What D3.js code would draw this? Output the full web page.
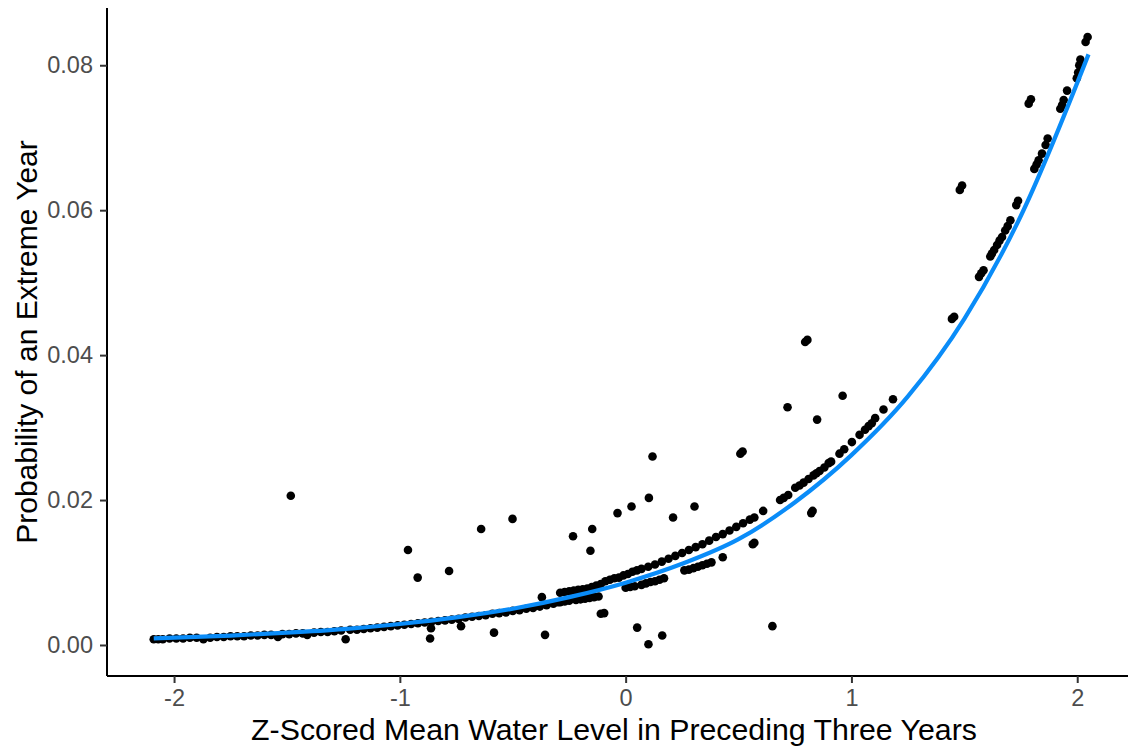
<!DOCTYPE html>
<html>
<head>
<meta charset="utf-8">
<script src="https://cdn.jsdelivr.net/npm/d3@7"></script>
<style>
  body { margin: 0; background: #fff; }
  svg { display: block; font-family: "Liberation Sans", Arial, sans-serif; }
</style>
</head>
<body>
<svg id="chart" width="1128" height="746"></svg>
<script>
// observed points: [z-scored water level, probability]
const bandPoints = [
  [-2.09,0.0008],[-2.07,0.0008],[-2.05,0.0008],[-2.02,0.0009],[-1.99,0.0009],[-1.96,0.0009],
  [-1.93,0.0010],[-1.90,0.0010],[-1.87,0.0008],[-1.84,0.0010],[-1.81,0.0011],[-1.78,0.0011],
  [-1.75,0.0012],[-1.72,0.0012],[-1.69,0.0012],[-1.66,0.0013],[-1.63,0.0013],[-1.60,0.0014],
  [-1.57,0.0014],[-1.54,0.0011],[-1.52,0.0015],[-1.49,0.0015],[-1.46,0.0016],[-1.43,0.0016],
  [-1.41,0.0014],[-1.38,0.0017],[-1.35,0.0018],[-1.32,0.0018],[-1.29,0.0019],[-1.26,0.0020],
  [-1.24,0.0008],[-1.22,0.0021],[-1.19,0.0021],[-1.16,0.0022],[-1.13,0.0023],[-1.10,0.0024],
  [-1.07,0.0025],[-1.04,0.0026],[-1.01,0.0027],[-0.98,0.0028],[-0.95,0.0029],[-0.92,0.0030],
  [-0.89,0.0031],[-0.86,0.0032],[-0.83,0.0033],[-0.80,0.0034],[-0.77,0.0035],[-0.74,0.0036],
  [-0.71,0.0038],[-0.68,0.0039],[-0.65,0.0040],[-0.62,0.0041],[-0.59,0.0043],[-0.56,0.0044],
  [-0.53,0.0045],[-0.50,0.0047],[-0.47,0.0048],[-0.44,0.0050],[-0.41,0.0051],[-0.38,0.0053],
  [-0.35,0.0055],[-0.32,0.0057],[-0.30,0.0059],
  // upper run
  [-0.29,0.0072],[-0.27,0.0073],[-0.25,0.0074],[-0.23,0.0075],[-0.21,0.0076],[-0.19,0.0077],
  [-0.17,0.0078],[-0.15,0.0080],[-0.13,0.0082],[-0.11,0.0084],[-0.09,0.0088],[-0.07,0.0090],
  [-0.05,0.0092],[-0.03,0.0093],[-0.01,0.0096],[0.01,0.0098],[0.03,0.0101],[0.05,0.0103],
  [0.07,0.0105],[0.10,0.0108],[0.13,0.0111],[0.16,0.0115],[0.19,0.0119],[0.22,0.0123],
  [0.25,0.0127],[0.28,0.0131],[0.31,0.0135],[0.34,0.0139],[0.37,0.0144],[0.40,0.0149],
  [0.43,0.0153],[0.46,0.0158],[0.49,0.0163],[0.52,0.0168],[0.55,0.0173],[0.57,0.0176],
  // lower runs
  [-0.29,0.0059],[-0.27,0.0060],[-0.25,0.0061],[-0.22,0.0062],[-0.20,0.0063],[-0.18,0.0064],
  [-0.16,0.0065],[-0.14,0.0066],[-0.12,0.0067],
  [0.00,0.0079],[0.02,0.0080],[0.04,0.0081],[0.07,0.0083],[0.09,0.0085],[0.11,0.0087],
  [0.13,0.0088],[0.15,0.0090],[0.17,0.0092],
  [0.26,0.0103],[0.28,0.0104],[0.30,0.0106],[0.32,0.0108],[0.34,0.0110],[0.36,0.0112],
  [0.38,0.0114],[0.43,0.0121],
  // upper end
  [0.684,0.0200],[0.70,0.0203],[0.72,0.0207],[0.751,0.0217],[0.77,0.0220],[0.788,0.0224],
  [0.81,0.0229],[0.832,0.0234],[0.845,0.0237],[0.859,0.0240],[0.88,0.0245],[0.899,0.0251],
  [0.91,0.0253],[0.947,0.0264],[0.968,0.0270],[1.002,0.0280],[1.036,0.0290],[1.06,0.0297],
  [1.076,0.0302],[1.09,0.0306],[1.105,0.0313],[1.142,0.0325],[1.184,0.0339],
  [1.445,0.0450],[1.455,0.0453],[1.565,0.0508],[1.575,0.0513],[1.585,0.0517],[1.615,0.0536],
  [1.622,0.0540],[1.632,0.0545],[1.645,0.0552],[1.656,0.0558],[1.667,0.0563],[1.681,0.0572],
  [1.692,0.0578],[1.704,0.0586],[1.730,0.0607],[1.738,0.0613],[1.810,0.0657],[1.820,0.0663],
  [1.829,0.0669],[1.844,0.0678],[1.860,0.0690],[1.869,0.0699],[1.925,0.0740],[1.933,0.0745],
  [1.940,0.0752],[1.955,0.0765],[1.998,0.0782],[2.004,0.0790],[2.009,0.0800],[2.014,0.0808],
  [2.037,0.0832],[2.046,0.0839]
]

const scatteredPoints = [
  [-1.483,0.0206],[-0.964,0.0131],[-0.921,0.0093],[-0.782,0.0102],[-0.640,0.0160],
  [-0.501,0.0174],[-0.371,0.0066],[-0.233,0.0150],[-0.148,0.0160],[-0.156,0.0130],
  [-0.036,0.0182],[0.026,0.0191],[0.103,0.0203],[0.119,0.0260],[0.210,0.0176],
  [0.305,0.0191],[0.508,0.0264],[0.518,0.0267],[0.563,0.0139],[0.570,0.0141],
  [0.609,0.0185],[0.717,0.0328],[0.795,0.0418],[0.805,0.0421],[0.822,0.0182],
  [0.828,0.0185],[0.848,0.0311],[0.961,0.0344],[1.480,0.0628],[1.490,0.0634],
  [1.785,0.0747],[1.795,0.0753],
  [-0.862,0.0023],[-0.866,0.0009],[-0.729,0.0026],[-0.583,0.0017],[-0.357,0.0014],
  [-0.110,0.0043],[-0.095,0.0044],[0.051,0.0024],[0.101,0.0001],[0.162,0.0013],
  [0.650,0.0026]
]

// fitted curve
const fitX = [-2.09, -1.75, -1.5, -1.25, -1.0, -0.75, -0.5, -0.25, 0, 0.25, 0.5, 0.75, 1.0, 1.25, 1.5, 1.75, 2.05]
const fitY = [0.0009, 0.0013, 0.0017, 0.0022, 0.0029, 0.0038, 0.0050, 0.0066, 0.0086, 0.0112, 0.0146, 0.0197, 0.0262, 0.0343, 0.0450, 0.0592, 0.0815]

const xTicks = [-2, -1, 0, 1, 2]
const yTicks = [0, 0.02, 0.04, 0.06, 0.08]

const xTitle = 'Z-Scored Mean Water Level in Preceding Three Years'
const yTitle = 'Probability of an Extreme Year'

const svg = d3.select('#chart')
const panel = { left: 107, right: 1133, top: 8, bottom: 676 }

const x = d3.scaleLinear().domain([-2.297, 2.247]).range([panel.left, panel.right])
const y = d3.scaleLinear().domain([-0.00428, 0.0879]).range([panel.bottom, panel.top])

// points
const allPoints = bandPoints.concat(scatteredPoints)
svg.append('g')
  .selectAll('circle')
  .data(allPoints)
  .enter()
  .append('circle')
  .attr('cx', d => x(d[0]))
  .attr('cy', d => y(d[1]))
  .attr('r', 4.3)
  .attr('fill', '#000')

// fitted line
const fit = fitX.map((v, i) => [v, fitY[i]])
const line = d3.line()
  .x(d => x(d[0]))
  .y(d => y(d[1]))
  .curve(d3.curveMonotoneX)

svg.append('path')
  .datum(fit)
  .attr('d', line)
  .attr('fill', 'none')
  .attr('stroke', '#0a8cf8')
  .attr('stroke-width', 4.2)

// axes
const xAxis = svg.append('g')
  .attr('transform', `translate(0,${panel.bottom})`)
  .call(d3.axisBottom(x).tickValues(xTicks).tickFormat(d => String(d)).tickSize(7).tickPadding(6))

const yAxis = svg.append('g')
  .attr('transform', `translate(${panel.left},0)`)
  .call(d3.axisLeft(y).tickValues(yTicks).tickFormat(d3.format('.2f')).tickSize(7).tickPadding(7))

;[xAxis, yAxis].forEach(g => {
  g.select('.domain').attr('stroke', '#000').attr('stroke-width', 2)
  g.selectAll('.tick line').attr('stroke', '#333').attr('stroke-width', 2)
  g.selectAll('.tick text')
    .attr('fill', '#4d4d4d')
    .style('font-size', '23.5px')
    .style('font-family', '"Liberation Sans", Arial, sans-serif')
})
// plain axis lines like ggplot (no outer ticks)
xAxis.select('.domain').attr('d', `M${panel.left},0H${panel.right}`)
yAxis.select('.domain').attr('d', `M0,${panel.bottom}V${panel.top}`)

// titles
svg.append('text')
  .attr('x', 614)
  .attr('y', 740)
  .attr('text-anchor', 'middle')
  .style('font-size', '30.3px')
  .attr('fill', '#000')
  .text(xTitle)

svg.append('text')
  .attr('transform', `translate(37,${(panel.top + panel.bottom) / 2}) rotate(-90)`)
  .attr('text-anchor', 'middle')
  .style('font-size', '30px')
  .attr('fill', '#000')
  .text(yTitle)
</script>
</body>
</html>
